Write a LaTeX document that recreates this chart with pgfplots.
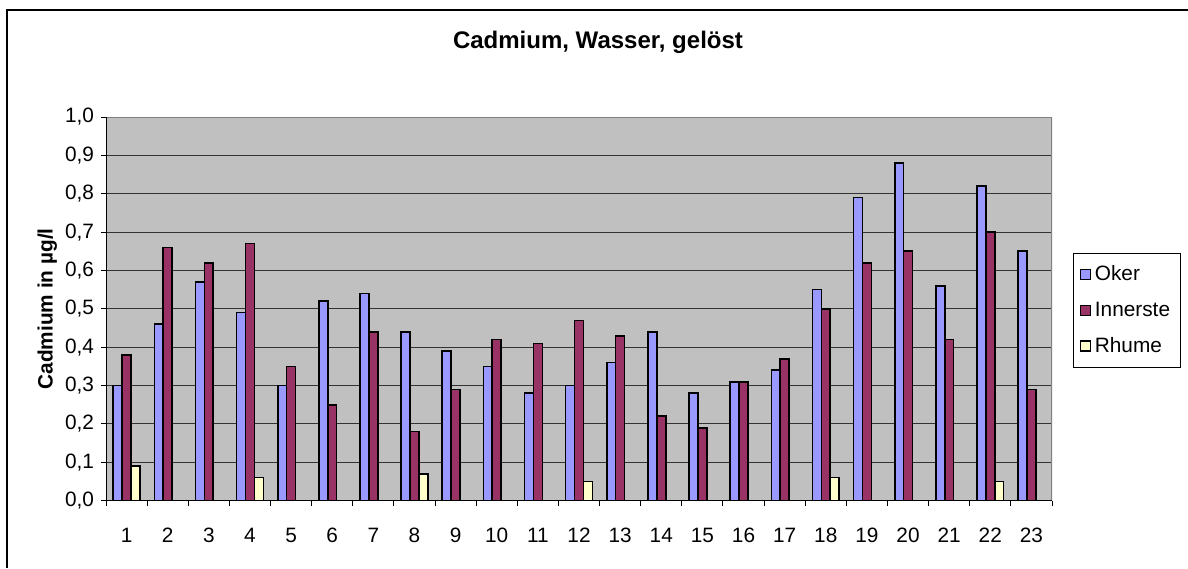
\documentclass[border=0pt]{standalone}
\usepackage{fontspec}
\setmainfont{Liberation Sans}
\usepackage{pgfplots}
\pgfplotsset{compat=1.18}

\definecolor{oker}{HTML}{9999FF}
\definecolor{innerste}{HTML}{993366}
\definecolor{rhume}{HTML}{FFFFCC}
\definecolor{plotbg}{HTML}{C0C0C0}

\begin{document}
\begin{tikzpicture}
\useasboundingbox (0,0) rectangle (594pt,284pt);
% Rahmen des Diagrammbereichs (rechts/unten abgeschnitten)
\draw[line width=0.6pt] (3.5pt,0) |- (594pt,279pt);
\node[font=\fontsize{12}{14}\selectfont\bfseries] at (299pt,263pt) {Cadmium, Wasser, gelöst};
\begin{axis}[
  at={(53pt,33.65pt)}, anchor=south west,
  scale only axis, width=473pt, height=191.85pt,
  ybar=0pt, bar width=4.45pt,
  xmin=0.5, xmax=23.5, ymin=0, ymax=1,
  axis background/.style={fill=plotbg},
  axis line style={draw=none},
  xtick={1,...,23},
  minor xtick={0.5,1.5,...,23.5},
  ytick={0,0.1,...,1.0},
  xtick pos=left, ytick pos=left,
  tick align=outside,
  major tick length=2.5pt, minor tick length=2.5pt,
  major x tick style={draw=none},
  tick style={black, line width=0.5pt},
  ymajorgrids, grid style={black!80, line width=0.5pt},
  /pgf/number format/assume math mode=true,
  tick label style={font=\fontsize{10.4}{12}\selectfont},
  xticklabel style={yshift=-7.5pt},
  yticklabel style={/pgf/number format/.cd, fixed, fixed zerofill, precision=1, use comma},
  ylabel={Cadmium in µg/l},
  every axis y label/.style={at={(axis description cs:-0.062,0.5)}, rotate=90, anchor=center, font=\fontsize{10.4}{12}\selectfont\bfseries},
  legend style={at={(1.0222,0.645)}, anchor=north west, draw=black, line width=0.5pt, fill=white,
    font=\fontsize{10.4}{12}\selectfont, row sep=5pt, inner xsep=3pt, inner ysep=4pt,
    /tikz/every even column/.append style={column sep=2pt}},
  legend cell align=left,
  legend image code/.code={\draw[#1, draw=black, line width=0.7pt] (0pt,-2.5pt) rectangle (5pt,2.5pt);},
]
\addplot[fill=oker, draw=black, line width=0.8pt] coordinates {
  (1,0.30) (2,0.46) (3,0.57) (4,0.49) (5,0.30) (6,0.52) (7,0.54) (8,0.44)
  (9,0.39) (10,0.35) (11,0.28) (12,0.30) (13,0.36) (14,0.44) (15,0.28) (16,0.31)
  (17,0.34) (18,0.55) (19,0.79) (20,0.88) (21,0.56) (22,0.82) (23,0.65)
};
\addlegendentry{Oker}
\addplot[fill=innerste, draw=black, line width=0.8pt] coordinates {
  (1,0.38) (2,0.66) (3,0.62) (4,0.67) (5,0.35) (6,0.25) (7,0.44) (8,0.18)
  (9,0.29) (10,0.42) (11,0.41) (12,0.47) (13,0.43) (14,0.22) (15,0.19) (16,0.31)
  (17,0.37) (18,0.50) (19,0.62) (20,0.65) (21,0.42) (22,0.70) (23,0.29)
};
\addlegendentry{Innerste}
\addplot[fill=rhume, draw=black, line width=0.8pt] coordinates {
  (1,0.09) (4,0.06) (8,0.07) (12,0.05) (18,0.06) (22,0.05)
};
\addlegendentry{Rhume}
% Rahmen der Zeichenfläche: oben/rechts grau, Achsen schwarz
\draw[gray, line width=0.6pt] (rel axis cs:0,1) -- (rel axis cs:1,1) -- (rel axis cs:1,0);
\draw[black, line width=0.6pt] (rel axis cs:0,1) -- (rel axis cs:0,0) -- (rel axis cs:1,0);
\end{axis}
\end{tikzpicture}
\end{document}
